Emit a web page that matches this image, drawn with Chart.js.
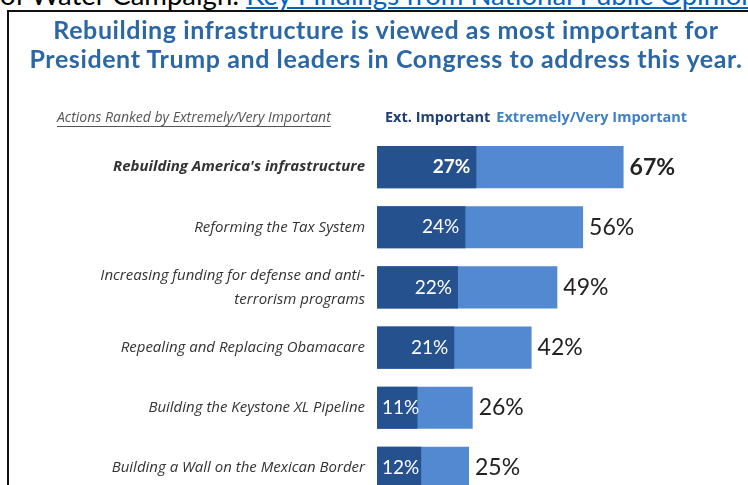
<!DOCTYPE html>
<html lang="en">
<head>
  <meta charset="UTF-8">
  <title>Rebuilding infrastructure is viewed as most important</title>
  <script src="https://cdn.jsdelivr.net/npm/chart.js"></script>
  <style>
    html, body {
      margin: 0;
      width: 748px;
      height: 485px;
      overflow: hidden;
      background: #fff;
      font-family: Lato, "Open Sans", sans-serif;
    }

    #source {
      position: absolute;
      left: 0;
      top: -18px;
      font-size: 27.5px;
      line-height: 26px;
      white-space: nowrap;
      color: #000;
    }

    #source a {
      color: #0563c1;
      text-decoration: underline;
    }

    #box {
      position: absolute;
      left: 7px;
      top: 10px;
      width: 800px;
      height: 600px;
      border: 2px solid #111;
      box-sizing: border-box;
    }

    #title {
      position: absolute;
      left: 0;
      top: 15px;
      width: 772px;
      text-align: center;
      color: #2a67a4;
      font-weight: bold;
      font-size: 25px;
      letter-spacing: 0.6px;
      line-height: 29px;
      white-space: nowrap;
    }

    canvas {
      position: absolute;
      left: 0;
      top: 0;
    }
  </style>
</head>
<body>
  <div id="source">of Water Campaign: <a href="#">Key Findings from National Public Opinion</a></div>
  <div id="box"></div>
  <canvas id="barChart" width="748" height="500"></canvas>
  <div id="title">Rebuilding infrastructure is viewed as most important for<br>President Trump and leaders in Congress to address this year.</div>

  <script>
    const categories = [
      "Rebuilding America's infrastructure",
      'Reforming the Tax System',
      ['Increasing funding for defense and anti-', 'terrorism programs'],
      'Repealing and Replacing Obamacare',
      'Building the Keystone XL Pipeline',
      'Building a Wall on the Mexican Border'
    ];
    const extImportant = [27, 24, 22, 21, 11, 12];
    const extVeryImportant = [67, 56, 49, 42, 26, 25];
    const seriesNames = ['Ext. Important', 'Extremely/Very Important'];
    const rankHeading = 'Actions Ranked by Extremely/Very Important';

    const darkBlue = '#26518f';
    const lightBlue = '#5289d1';

    // headings above the bars + the % labels on the bars
    const labelPlugin = {
      id: 'barLabels',
      afterDatasetsDraw(chart) {
        const ctx = chart.ctx;
        const area = chart.chartArea;
        ctx.save();

        // column headings
        const hy = area.top - 19;
        ctx.textBaseline = 'middle';
        ctx.textAlign = 'left';
        ctx.font = 'italic 14px "Open Sans"';
        ctx.fillStyle = '#555';
        ctx.fillText(rankHeading, 57, hy);
        const w = ctx.measureText(rankHeading).width;
        ctx.fillRect(57, hy + 8, w, 1);

        ctx.font = 'bold 14.5px "Open Sans"';
        ctx.fillStyle = '#1f3f73';
        const lx = area.left + 8;
        ctx.fillText(seriesNames[0], lx, hy);
        const w0 = ctx.measureText(seriesNames[0]).width;
        ctx.fillStyle = '#3f7fc6';
        ctx.fillText(seriesNames[1], lx + w0 + 6, hy);

        // values: inner ones hug the end of the dark bar, but never leave it
        const inner = chart.getDatasetMeta(0).data;
        const outer = chart.getDatasetMeta(1).data;
        inner.forEach((bar, i) => {
          const txt = extImportant[i] + '%';
          ctx.font = (i === 0 ? 'bold ' : '') + '19px Lato';
          ctx.fillStyle = '#fff';
          ctx.textAlign = 'right';
          const tw = ctx.measureText(txt).width;
          ctx.fillText(txt, Math.max(bar.x - 6, bar.base + 5 + tw), bar.y);
        });
        outer.forEach((bar, i) => {
          ctx.font = (i === 0 ? 'bold ' : '') + '23px Lato';
          ctx.fillStyle = '#222';
          ctx.textAlign = 'left';
          ctx.fillText(extVeryImportant[i] + '%', bar.x + 6, bar.y);
        });
        ctx.restore();
      }
    };

    new Chart(document.getElementById('barChart'), {
      type: 'bar',
      data: {
        labels: categories,
        datasets: [
          {
            label: seriesNames[0],
            data: extImportant,
            backgroundColor: darkBlue
          },
          {
            label: seriesNames[1],
            data: extVeryImportant,
            backgroundColor: lightBlue
          }
        ]
      },
      options: {
        indexAxis: 'y',
        responsive: false,
        animation: false,
        barPercentage: 0.7,
        categoryPercentage: 1,
        layout: {
          padding: { top: 137, right: 3, bottom: 2, left: 0 }
        },
        plugins: {
          legend: { display: false },
          tooltip: { enabled: false }
        },
        scales: {
          x: {
            display: false,
            stacked: false,
            min: 0,
            max: 100
          },
          y: {
            stacked: true,
            grid: { display: false, drawTicks: false },
            border: { display: false },
            afterFit(scale) {
              scale.width = 377;
              scale.paddingTop = 0;
              scale.paddingBottom = 0;
            },
            ticks: {
              padding: 12,
              color: '#333',
              font: ctx => ({
                family: '"Open Sans"',
                size: 15,
                style: 'italic',
                weight: ctx.index === 0 ? 'bold' : 'normal',
                lineHeight: 1.6
              })
            }
          }
        }
      },
      plugins: [labelPlugin]
    });
  </script>
</body>
</html>
